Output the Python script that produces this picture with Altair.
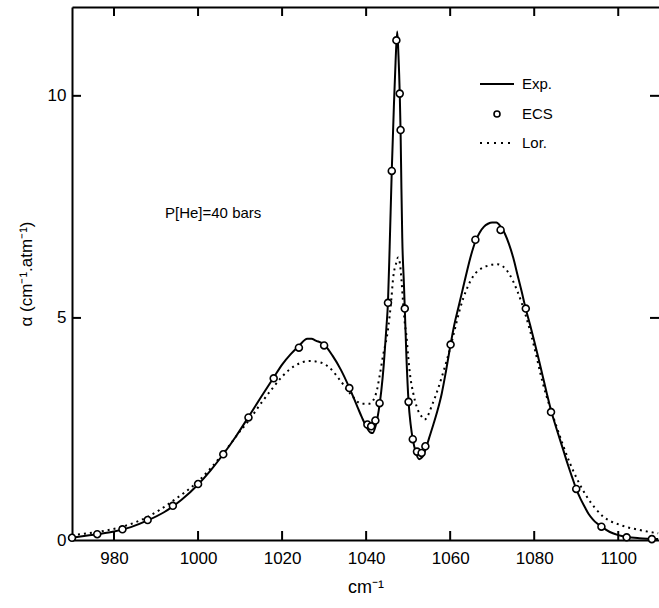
import altair as alt
import pandas as pd

# ---- data ----
exp_x = [970, 972, 976, 980, 984, 988, 992, 996, 1000, 1003, 1006, 1009, 1012, 1015, 1018, 1020,
         1022, 1024, 1026, 1027, 1028, 1030, 1032, 1034, 1036, 1038, 1039, 1040, 1041, 1041.6,
         1042.2, 1043, 1043.6, 1044.2, 1044.8, 1045.2, 1045.6, 1046.1, 1046.6, 1047.0, 1047.4,
         1047.7, 1048.0, 1048.2, 1048.4, 1048.6, 1049.0, 1049.2, 1049.6, 1050.1, 1050.6, 1051.1,
         1051.8, 1052.6, 1053.3, 1054, 1055, 1056, 1057, 1058, 1059, 1060, 1061, 1062, 1063, 1064,
         1065, 1066, 1067, 1068, 1069, 1070, 1071, 1072, 1073, 1074, 1075, 1076, 1077, 1078, 1079,
         1080, 1081, 1082, 1083, 1084, 1085, 1086, 1087, 1088, 1089, 1090, 1091, 1092, 1093, 1094,
         1095, 1096, 1098, 1100, 1102, 1105, 1109.5]
exp_y = [0.05, 0.08, 0.13, 0.19, 0.29, 0.44, 0.63, 0.90, 1.25, 1.57, 1.93, 2.33, 2.77, 3.22, 3.66, 3.95,
         4.18, 4.37, 4.53, 4.53, 4.49, 4.40, 4.15, 3.83, 3.43, 2.98, 2.76, 2.56, 2.42, 2.41,
         2.55, 2.92, 3.35, 3.95, 4.75, 5.36, 6.6, 8.31, 9.75, 10.75, 11.45,
         10.9, 10.05, 9.2, 7.9, 6.8, 5.75, 5.21, 4.1, 3.11, 2.6, 2.27,
         1.98, 1.82, 1.86, 2.0, 2.3, 2.6, 2.92, 3.3, 3.8, 4.35, 4.85, 5.25, 5.65, 6.05,
         6.42, 6.72, 6.92, 7.05, 7.12, 7.15, 7.15, 7.06, 6.9, 6.66, 6.36, 5.98, 5.6, 5.2, 4.85,
         4.48, 4.1, 3.7, 3.3, 2.92, 2.6, 2.3, 2.0, 1.7, 1.42, 1.15, 0.93, 0.75, 0.58, 0.46,
         0.37, 0.3, 0.18, 0.11, 0.07, 0.04, 0.02]

ecs_x = [970, 976, 982, 988, 994, 1000, 1006, 1012, 1018, 1024, 1030, 1036, 1040.3, 1041.2, 1042.2,
         1043.2, 1045.2, 1046.1, 1047.2, 1048.0, 1048.2, 1049.2, 1050.1, 1051.1, 1052.1, 1053.2,
         1054.1, 1060.1, 1066, 1072, 1078, 1084, 1090, 1096, 1102, 1108]
ecs_y = [0.05, 0.13, 0.24, 0.45, 0.77, 1.26, 1.93, 2.76, 3.64, 4.33, 4.38, 3.42, 2.60, 2.56, 2.69,
         3.08, 5.34, 8.31, 11.25, 10.05, 9.23, 5.21, 3.11, 2.27, 1.99, 1.96,
         2.11, 4.40, 6.76, 6.98, 5.21, 2.88, 1.15, 0.30, 0.06, 0.02]

lor_x = [970, 976, 982, 988, 994, 1000, 1006, 1010, 1012, 1015, 1018, 1020, 1023, 1026.5, 1029,
         1031.3, 1033.7, 1036.1, 1038.9, 1040.8, 1042.4, 1043.2, 1044.0, 1045.2, 1046.0, 1046.4,
         1047.2, 1047.6, 1048.0, 1048.4, 1048.8, 1049.2, 1049.6, 1050.0, 1050.4, 1051.2, 1052.0,
         1053.2, 1053.9, 1055.9, 1058.3, 1060.1, 1061.1, 1062.3, 1065.5, 1067.8, 1071.2, 1074,
         1076, 1078, 1080, 1082, 1085.3, 1088.5, 1092.5, 1096.4, 1100.4, 1104.8, 1109.5]
lor_y = [0.11, 0.18, 0.30, 0.52, 0.88, 1.32, 1.95, 2.45, 2.68, 3.08, 3.45, 3.68, 3.92, 4.03, 4.0,
         3.88, 3.61, 3.31, 3.07, 3.07, 3.31, 3.69, 4.14, 4.74, 5.42, 5.87,
         6.25, 6.36, 6.25, 5.87, 5.34, 4.89, 4.59, 4.14, 3.76, 3.31, 3.01,
         2.78, 2.71, 3.09, 3.76, 4.36, 4.74, 5.19, 5.94, 6.13, 6.21, 6.0,
         5.6, 5.05, 4.35, 3.55, 2.56, 1.73, 0.98, 0.53, 0.34, 0.23, 0.15]

x_ticks = [980, 1000, 1020, 1040, 1060, 1080, 1100]
y_ticks = [0, 5, 10]
y_inner_ticks = [5, 10]
legend_labels = ["Exp.", "ECS", "Lor."]
annotation = "P[He]=40 bars"

W, H = 587, 533
FONT = "Liberation Sans"
TL = 9  # inward tick length

xs = alt.Scale(domain=[970, 1109.7], nice=False, zero=False)
ys = alt.Scale(domain=[0, 12], nice=False, zero=False)

exp_df = pd.DataFrame({"x": exp_x, "y": exp_y})
ecs_df = pd.DataFrame({"x": ecs_x, "y": ecs_y})
lor_df = pd.DataFrame({"x": lor_x, "y": lor_y})
xt_df = pd.DataFrame({"t": x_ticks})
yt_df = pd.DataFrame({"v": y_inner_ticks})

bottom_axis = alt.Axis(orient="bottom", values=x_ticks, format="d", ticks=False, tickSize=0,
                       domain=True, domainColor="black", domainWidth=2, grid=False,
                       labelFont=FONT, labelFontSize=17, labelColor="black", labelPadding=10,
                       title="cm⁻¹", titleFont=FONT, titleFontSize=18, titleFontWeight="normal",
                       titleColor="black", titlePadding=12)
left_axis = alt.Axis(orient="left", values=y_ticks, format="d", ticks=False, tickSize=0,
                     domain=True, domainColor="black", domainWidth=2, grid=False,
                     labelFont=FONT, labelFontSize=17, labelColor="black", labelPadding=6,
                     title="α (cm⁻¹.atm⁻¹)", titleFont=FONT, titleFontSize=17,
                     titleFontWeight="normal", titleColor="black", titlePadding=12)
top_axis = alt.Axis(orient="top", ticks=False, tickSize=0, labels=False, domain=True,
                    domainColor="black", domainWidth=2, grid=False, title=None)

lor = alt.Chart(lor_df).mark_line(color="black", strokeWidth=2, strokeDash=[2, 4],
                                  interpolate="monotone").encode(
    x=alt.X("x:Q", scale=xs, axis=None), y=alt.Y("y:Q", scale=ys, axis=None))

exp = alt.Chart(exp_df).mark_line(color="black", strokeWidth=2, interpolate="monotone").encode(
    x=alt.X("x:Q", scale=xs, axis=bottom_axis), y=alt.Y("y:Q", scale=ys, axis=left_axis))

ecs = alt.Chart(ecs_df).mark_point(shape="circle", filled=False, fill="white", fillOpacity=1,
                                   color="black", strokeWidth=1.6, size=48, opacity=1).encode(
    x=alt.X("x:Q", scale=xs, axis=None), y=alt.Y("y:Q", scale=ys, axis=None))

tick_bottom = alt.Chart(xt_df).mark_rule(color="black", strokeWidth=2).encode(
    x=alt.X("t:Q", scale=xs, axis=top_axis), y=alt.value(H), y2=alt.value(H - TL))
tick_top = alt.Chart(xt_df).mark_rule(color="black", strokeWidth=2).encode(
    x=alt.X("t:Q", scale=xs, axis=None), y=alt.value(0), y2=alt.value(TL))
tick_left = alt.Chart(yt_df).mark_rule(color="black", strokeWidth=2).encode(
    y=alt.Y("v:Q", scale=ys, axis=None), x=alt.value(0), x2=alt.value(TL))
tick_right = alt.Chart(yt_df).mark_rule(color="black", strokeWidth=2).encode(
    y=alt.Y("v:Q", scale=ys, axis=None), x=alt.value(W - TL), x2=alt.value(W))

# legend (drawn by hand)
LX0, LX1, LT = 408, 442, 450
LY = [77, 107, 136]
leg_exp = alt.Chart(pd.DataFrame({"l": [legend_labels[0]]})).mark_rule(color="black", strokeWidth=2).encode(
    x=alt.value(LX0), x2=alt.value(LX1), y=alt.value(LY[0]))
leg_ecs = alt.Chart(pd.DataFrame({"l": [legend_labels[1]]})).mark_point(
    shape="circle", filled=False, fill="white", fillOpacity=1, color="black", strokeWidth=1.6,
    size=36, opacity=1).encode(x=alt.value((LX0 + LX1) / 2), y=alt.value(LY[1]))
leg_lor = alt.Chart(pd.DataFrame({"l": [legend_labels[2]]})).mark_rule(
    color="black", strokeWidth=2, strokeDash=[2, 5]).encode(
    x=alt.value(LX0), x2=alt.value(LX1), y=alt.value(LY[2]))
leg_text = []
for lab, yy in zip(legend_labels, LY):
    leg_text.append(alt.Chart(pd.DataFrame({"l": [lab]})).mark_text(
        align="left", baseline="middle", font=FONT, fontSize=15, color="black").encode(
        text="l:N", x=alt.value(LT), y=alt.value(yy)))

note = alt.Chart(pd.DataFrame({"l": [annotation]})).mark_text(
    align="left", baseline="middle", font=FONT, fontSize=15, color="black").encode(
    text="l:N", x=alt.value(93), y=alt.value(206))

chart = alt.layer(
    lor, exp, ecs, tick_bottom, tick_top, tick_left, tick_right,
    leg_exp, leg_ecs, leg_lor, *leg_text, note
).resolve_axis(x="independent", y="independent").properties(
    width=W, height=H,
    autosize=alt.AutoSizeParams(type="none"),
    padding={"left": 72, "top": 7, "right": 0, "bottom": 68},
).configure_view(stroke=None).configure(background="white")

chart.save("out.html", embed_options={"renderer": "svg", "actions": False})
